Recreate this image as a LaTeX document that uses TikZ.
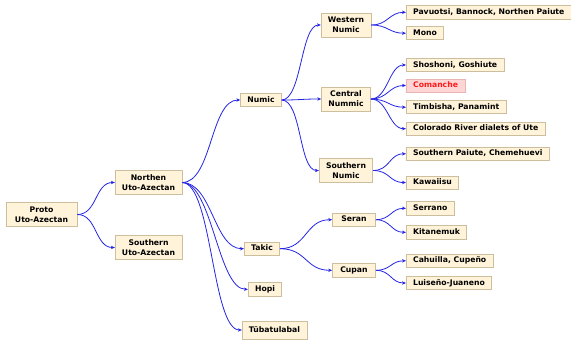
\documentclass[tikz,border=0pt]{standalone}
\usepackage{fontspec}
\setmainfont{DejaVu Sans}
\usetikzlibrary{arrows.meta}
\definecolor{boxfill}{HTML}{FFF4DA}
\definecolor{boxline}{HTML}{CDBF9D}
\definecolor{edgeblue}{HTML}{2424E6}
\definecolor{hlfill}{HTML}{FFD6D6}
\definecolor{hlline}{HTML}{E8B4B4}
\definecolor{hltext}{HTML}{FF1A1A}

\begin{document}
\begin{tikzpicture}[x=1pt,y=-1pt,>={Stealth[length=4pt,width=3.4pt]},
	lang/.style={draw=boxline, fill=boxfill, line width=0.6pt, font=\bfseries\fontsize{7.7}{10}\selectfont, align=center, inner xsep=6.8pt, inner ysep=2.7pt},
	one/.style={lang, text height=6pt, text depth=1.7pt},
	two/.style={lang, minimum height=24pt},
	leaf/.style={one, anchor=west},
	link/.style={->, edgeblue, line width=0.8pt}]
	
	%the frame
	\useasboundingbox (0,0) rectangle (571,340);
	
	% the roots
	\node[two, minimum width=71pt] (proto) at (41.5,214.5) {Proto\\Uto-Azectan};
	\node[two, minimum width=63pt] (north) at (148.5,182.5) {Northen\\Uto-Azectan};
	\node[two, minimum width=63pt] (south) at (148.5,247.5) {Southern\\Uto-Azectan};
	
	% the branches of Northen Uto-Azectan
	\node[one] (numic) at (261,100) {Numic};
	\node[one] (takic) at (262,248.7) {Takic};
	\node[one] (hopi) at (265,289.3) {Hopi};
	\node[one, minimum height=18pt] (tuba) at (274.5,330) {Tübatulabal};
	
	% the groups
	\node[two, minimum width=49pt] (western) at (346,25) {Western\\Numic};
	\node[two, minimum width=49pt] (central) at (346,99) {Central\\Nummic};
	\node[two, minimum width=49pt] (southnum) at (346,170.5) {Southern\\Numic};
	\node[one, minimum width=43pt] (seran) at (354,219.7) {Seran};
	\node[one, minimum width=43pt] (cupan) at (354,270.3) {Cupan};
	
	% the languages
	\node[leaf] (pav) at (406,12.3) {Pavuotsi, Bannock, Northen Paiute};
	\node[leaf] (mono) at (406,33.2) {Mono};
	\node[leaf] (shosh) at (406,65) {Shoshoni, Goshiute};
	\node[leaf, draw=hlline, fill=hlfill, text=hltext] (com) at (406,85.5) {Comanche};
	\node[leaf] (timb) at (406,107.2) {Timbisha, Panamint};
	\node[leaf] (colo) at (406,128.7) {Colorado River dialets of Ute};
	\node[leaf] (spai) at (406,153.8) {Southern Paiute, Chemehuevi};
	\node[leaf] (kawa) at (406,182.5) {Kawaiisu};
	\node[leaf] (serr) at (406,208.3) {Serrano};
	\node[leaf] (kita) at (406,232.3) {Kitanemuk};
	\node[leaf] (cahu) at (406,260.8) {Cahuilla, Cupeño};
	\node[leaf] (luis) at (406,283) {Luiseño-Juaneno};
	
	% the edges
	\foreach \a/\b/\d in {proto/north/20, proto/south/20,
		north/numic/30, north/takic/30, north/hopi/30, north/tuba/30,
		numic/western/20, numic/central/20, numic/southnum/20,
		takic/seran/27, takic/cupan/27,
		western/pav/17, western/mono/17,
		central/shosh/17, central/com/17, central/timb/17, central/colo/17,
		southnum/spai/17, southnum/kawa/17,
		seran/serr/15, seran/kita/15,
		cupan/cahu/15, cupan/luis/15}
		\draw[link] (\a.east) .. controls +(\d,0) and +(-\d,0) .. (\b.west);
	
\end{tikzpicture}
\end{document}
